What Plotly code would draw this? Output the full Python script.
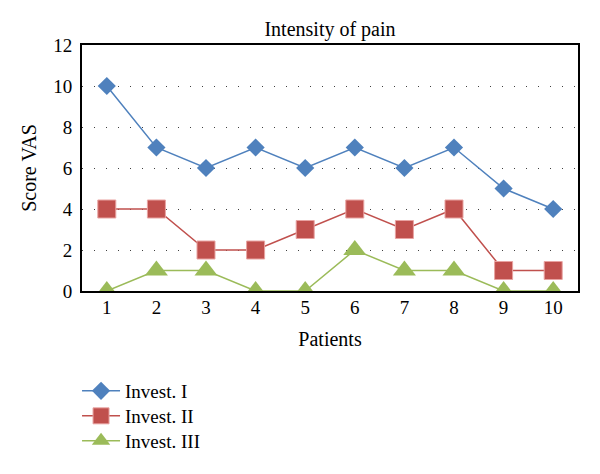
import plotly.graph_objects as go

patients = ["1", "2", "3", "4", "5", "6", "7", "8", "9", "10"]
invest_1 = [10, 7, 6, 7, 6, 7, 6, 7, 5, 4]
invest_2 = [4, 4, 2, 2, 3, 4, 3, 4, 1, 1]
invest_3 = [0, 1, 1, 0, 0, 2, 1, 1, 0, 0]
series_names = ["Invest. I", "Invest. II", "Invest. III"]
y_ticks = [0, 2, 4, 6, 8, 10, 12]

FONT = "Liberation Serif"

fig = go.Figure()
fig.add_trace(go.Scatter(x=patients, y=invest_1, name=series_names[0], mode="lines+markers",
                         line=dict(color="#4F81BD", width=1.5), legend="legend",
                         marker=dict(symbol="diamond", size=14, color="#4F81BD")))
fig.add_trace(go.Scatter(x=patients, y=invest_2, name=series_names[1], mode="lines+markers",
                         line=dict(color="#C0504D", width=1.5), legend="legend2",
                         marker=dict(symbol="square", size=18, color="#C0504D",
                                     line=dict(color="#E8A3A1", width=1))))
fig.add_trace(go.Scatter(x=patients, y=invest_3, name=series_names[2], mode="lines+markers",
                         line=dict(color="#9BBB59", width=1.5), legend="legend3",
                         marker=dict(symbol="triangle-up", size=20, color="#9BBB59")))

def leg(yc):
    return dict(x=-0.01, xanchor="left", y=yc, yanchor="middle",
                font=dict(family=FONT, size=19, color="black"),
                bgcolor="rgba(0,0,0,0)", itemwidth=38)

fig.update_layout(
    width=600, height=474,
    margin=dict(l=82, r=22, t=45, b=183),
    paper_bgcolor="white", plot_bgcolor="white",
    font=dict(family=FONT, size=19, color="black"),
    title=dict(text="Intensity of pain", x=0.5, xref="paper", xanchor="center",
               y=1, yref="paper", yanchor="bottom", pad=dict(b=9),
               font=dict(family=FONT, size=20, color="black")),
    showlegend=True,
    legend=leg(-0.4065),
    legend2=leg(-0.5081),
    legend3=leg(-0.6098),
    xaxis=dict(type="category", range=[-0.5, 9.5], showgrid=False,
               showline=True, linecolor="black", linewidth=2, mirror=True,
               ticks="", tickfont=dict(size=19), ticklabelstandoff=-2,
               automargin=False,
               title=dict(text="Patients", font=dict(size=20), standoff=15)),
    yaxis=dict(range=[0, 12], tickvals=y_ticks, showgrid=True,
               gridcolor="#404040", gridwidth=1, griddash="1px,11px",
               showline=True, linecolor="black", linewidth=2, mirror=True,
               ticks="", zeroline=False, ticklabelstandoff=4,
               automargin=False,
               tickfont=dict(size=19),
               title=dict(text="Score VAS", font=dict(size=20), standoff=11)),
)

fig.write_html("out.html", config={"displayModeBar": False},
               post_script="document.body.style.margin='0';document.body.style.overflow='hidden';")
